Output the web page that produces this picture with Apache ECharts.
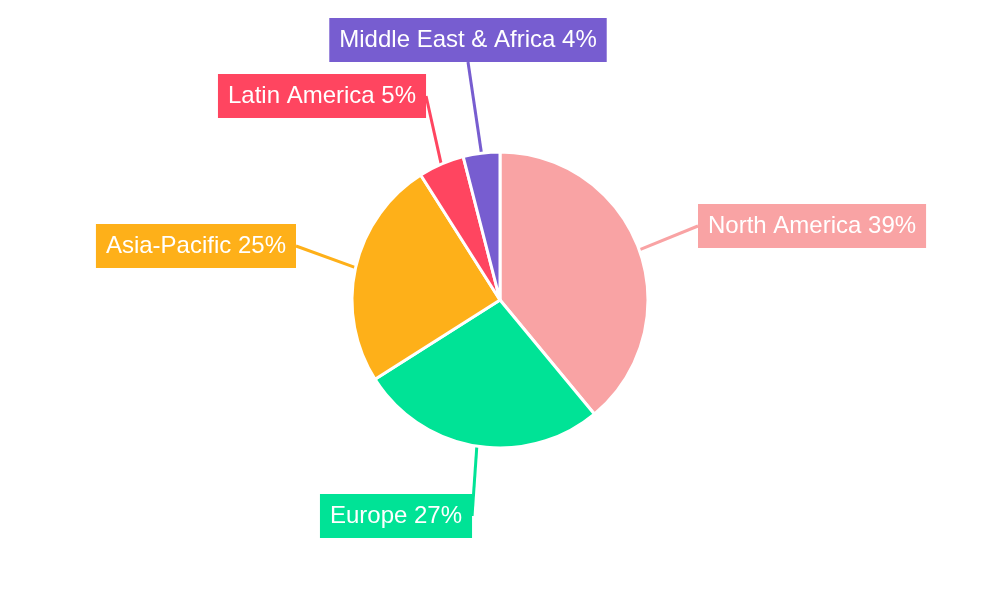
<!DOCTYPE html>
<html>
<head>
<meta charset="utf-8">
<script src="https://cdn.jsdelivr.net/npm/echarts@6/dist/echarts.min.js"></script>
<style>html,body{margin:0;padding:0;background:#fff}#chart{width:1000px;height:600px}</style>
</head>
<body>
<div id="chart"></div>
<script>
var regions = ['North America', 'Europe', 'Asia-Pacific', 'Latin America', 'Middle East & Africa'];
var shares = [39, 27, 25, 5, 4];
var colors = ['#F9A3A4', '#00E396', '#FEB019', '#FF4560', '#775DD0'];

// label box anchor positions (x, y, align)
var labelPos = [
	[698, 226, 'left'],
	[396, 516, 'center'],
	[296, 246, 'right'],
	[322, 96, 'center'],
	[468, 40, 'center']
];

var myChart = echarts.init(document.getElementById('chart'));
var data = regions.map(function (r, i) {
	return {
		name: r,
		value: shares[i],
		itemStyle: {color: colors[i]},
		label: {backgroundColor: colors[i]},
		labelLine: {lineStyle: {color: colors[i]}}
	};
});
var option = {
	animation: false,
	series: [{
		type: 'pie',
		center: ['50%', '50%'],
		radius: [0, 148],
		startAngle: 90,
		clockwise: true,
		data: data,
		itemStyle: {borderColor: '#fff', borderWidth: 3},
		label: {
			show: true,
			formatter: '{b} {c}%',
			color: '#fff',
			fontFamily: 'Liberation Sans',
			fontSize: 24,
			padding: [11, 10, 9, 10]
		},
		labelLine: {
			show: true,
			length: 20,
			length2: 0,
			lineStyle: {width: 3}
		},
		labelLayout: function (p) {
			var q = labelPos[p.dataIndex];
			return {x: q[0], y: q[1], align: q[2], verticalAlign: 'middle'};
		}
	}]
};
myChart.setOption(option);
</script>
</body>
</html>
